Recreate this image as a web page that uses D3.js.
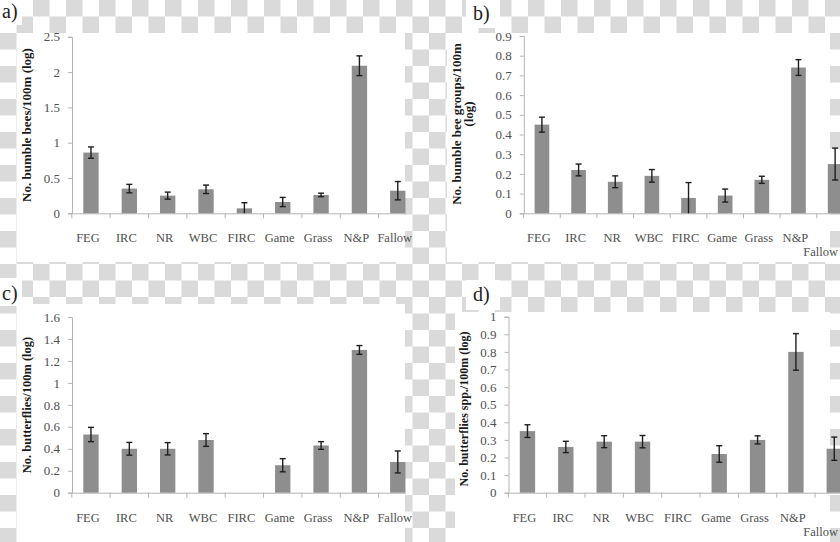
<!DOCTYPE html>
<html>
<head>
<meta charset="utf-8">
<script src="https://cdn.jsdelivr.net/npm/d3@7"></script>
<style>
  html, body { margin: 0; padding: 0; background: #fff; }
  svg { display: block; }
  text { font-family: 'Liberation Serif', 'Times New Roman', serif; }
</style>
</head>
<body>
<svg id="chart" width="840" height="542"></svg>
<script>
// ---------- data ----------
const categories = ["FEG", "IRC", "NR", "WBC", "FIRC", "Game", "Grass", "N&P", "Fallow"];

const beesMean = [0.86, 0.35, 0.25, 0.34, 0.07, 0.16, 0.26, 2.09, 0.32];
const beesErr  = [0.08, 0.06, 0.05, 0.06, 0.08, 0.065, 0.025, 0.14, 0.13];

const groupsMean = [0.45, 0.22, 0.16, 0.19, 0.078, 0.09, 0.17, 0.74, 0.25];
const groupsErr  = [0.038, 0.03, 0.03, 0.032, 0.078, 0.033, 0.018, 0.04, 0.081];

const butterfliesMean = [0.53, 0.40, 0.40, 0.48, 0, 0.25, 0.43, 1.30, 0.28];
const butterfliesErr  = [0.065, 0.058, 0.056, 0.058, 0, 0.06, 0.035, 0.04, 0.10];

const sppMean = [0.35, 0.26, 0.29, 0.29, 0, 0.22, 0.30, 0.80, 0.25];
const sppErr  = [0.036, 0.032, 0.034, 0.035, 0, 0.047, 0.023, 0.104, 0.066];

const ticksA = [0, 0.5, 1, 1.5, 2, 2.5];
const ticksB = [0, 0.1, 0.2, 0.3, 0.4, 0.5, 0.6, 0.7, 0.8, 0.9];
const ticksC = [0, 0.2, 0.4, 0.6, 0.8, 1, 1.2, 1.4, 1.6];
const ticksD = [0, 0.1, 0.2, 0.3, 0.4, 0.5, 0.6, 0.7, 0.8, 0.9, 1];

const panelLetters = ["a)", "b)", "c)", "d)"];
const yTitles = [
  ["No. bumble bees/100m (log)"],
  ["No. bumble bee groups/100m", "(log)"],
  ["No. butterflies/100m (log)"],
  ["No. butterflies spp./100m (log)"]
];

// ---------- layout ----------
const FONT = "'Liberation Serif', 'Times New Roman', serif";
const svg = d3.select("#chart");
const W = 840, H = 542;

const defs = svg.append("defs");
const pat = defs.append("pattern").attr("id", "checker")
  .attr("patternUnits", "userSpaceOnUse").attr("width", 33).attr("height", 33);
pat.append("rect").attr("width", 33).attr("height", 33).attr("fill", "#ffffff");
pat.append("rect").attr("x", 0).attr("y", 0).attr("width", 16.5).attr("height", 16.5).attr("fill", "#dadada");
pat.append("rect").attr("x", 16.5).attr("y", 16.5).attr("width", 16.5).attr("height", 16.5).attr("fill", "#dadada");
svg.append("rect").attr("width", W).attr("height", H).attr("fill", "url(#checker)");

const panels = [
  { mean: beesMean, err: beesErr, ticks: ticksA, max: 2.5,
    box: [17, 33, 405, 262], label: [2, 18], labelBox: [0, 0, 22, 25],
    x0: 71.8, step: 38.35, y0: 213.3, y1: 36.8,
    title: { x: 31, y: 125, size: 13, lines: [[0, 0]] } },
  { mean: groupsMean, err: groupsErr, ticks: ticksB, max: 0.9,
    box: [447, 33, 830, 262], label: [473, 20], labelBox: [466, 0, 500, 28],
    x0: 523.6, step: 36.65, y0: 213.3, y1: 36,
    title: { x: 461, y: 124, size: 13, lines: [[0, 0], [11.5, -10]] } },
  { mean: butterfliesMean, err: butterfliesErr, ticks: ticksC, max: 1.6,
    box: [17, 304, 405, 542], label: [2, 300], labelBox: [0, 278, 22, 306],
    x0: 71.8, step: 38.35, y0: 492.7, y1: 317,
    title: { x: 31, y: 405, size: 12.5, lines: [[0, 0]] } },
  { mean: sppMean, err: sppErr, ticks: ticksD, max: 1.0,
    box: [455, 312, 830, 542], label: [473, 301], labelBox: [466, 280, 500, 310],
    x0: 508.3, step: 38.35, y0: 492.7, y1: 316.7,
    title: { x: 468, y: 409, size: 12, lines: [[0, 0]] } }
];

const barColor = "#8e8e8e";
const axisColor = "#b4b4b4";
const tickTextColor = "#505050";

panels.forEach((p, i) => {
  const [bx0, by0, bx1, by1] = p.box;
  svg.append("rect").attr("x", bx0).attr("y", by0)
    .attr("width", bx1 - bx0).attr("height", by1 - by0).attr("fill", "#fff");
  const [lx0, ly0, lx1, ly1] = p.labelBox;
  svg.append("rect").attr("x", lx0).attr("y", ly0)
    .attr("width", lx1 - lx0).attr("height", ly1 - ly0).attr("fill", "#fff");

  svg.append("text").attr("x", p.label[0]).attr("y", p.label[1])
    .attr("font-family", FONT)
    .attr("font-size", 20).attr("fill", "#222").text(panelLetters[i]);

  const clipId = "clip" + i;
  defs.append("clipPath").attr("id", clipId).append("rect")
    .attr("x", 0).attr("y", 0).attr("width", (i % 2 === 0 ? bx1 + 1 : W)).attr("height", H);

  const g = svg.append("g").attr("clip-path", `url(#${clipId})`);

  const x = d3.scaleBand().domain(categories)
    .range([p.x0, p.x0 + p.step * categories.length]).padding(0);
  const y = d3.scaleLinear().domain([0, p.max]).range([p.y0, p.y1]);
  const axisX = x.range()[0] + 0.2;

  // Y axis
  const yAxis = d3.axisLeft(y).tickValues(p.ticks).tickSize(4).tickPadding(8)
    .tickFormat(d => String(+d.toFixed(2)));
  const yg = g.append("g").attr("transform", `translate(${axisX},0)`).call(yAxis);
  yg.attr("font-family", FONT).attr("font-size", 13);
  yg.select(".domain").attr("stroke", axisColor);
  yg.selectAll(".tick line").attr("stroke", axisColor);
  yg.selectAll(".tick text").attr("fill", tickTextColor);

  // X axis line
  const xAxis = d3.axisBottom(x).tickSize(0).tickFormat("");
  const xg = g.append("g").attr("transform", `translate(0,${p.y0})`).call(xAxis);
  xg.select(".domain").attr("stroke", axisColor);

  // boundary tick marks between categories
  g.append("g").selectAll("line")
    .data(d3.range(categories.length + 1))
    .join("line")
    .attr("x1", k => x.range()[0] + k * x.step())
    .attr("x2", k => x.range()[0] + k * x.step())
    .attr("y1", p.y0).attr("y2", p.y0 + 5)
    .attr("stroke", axisColor);

  // category labels under each bar
  const lab = svg.append("g").selectAll("text").data(categories).join("text")
    .attr("text-anchor", "middle").attr("font-family", FONT).attr("font-size", 12.5)
    .attr("fill", tickTextColor).text(d => d);
  lab.each(function (d) {
    const L = this.getComputedTextLength ? this.getComputedTextLength() : d.length * 7;
    const want = x(d) + x.step() / 2 - 3;
    const limit = W - 2 - L / 2;
    const clamped = want > limit;
    d3.select(this)
      .attr("x", clamped ? limit : want)
      .attr("y", p.y0 + 29 + (clamped ? 14 : 0));
  });

  const data = categories.map((c, k) => ({ c, m: p.mean[k], e: p.err[k] }))
    .filter(d => d.m > 0);
  const bw = x.step() * 0.4;

  g.append("g").selectAll("rect").data(data).join("rect")
    .attr("x", d => x(d.c) + (x.step() - bw) / 2)
    .attr("y", d => y(d.m))
    .attr("width", bw)
    .attr("height", d => y(0) - y(d.m))
    .attr("fill", barColor);

  const eg = g.append("g").attr("stroke", "#1e1e1e").attr("stroke-width", 1.4);
  const cx = d => x(d.c) + x.step() / 2;
  eg.selectAll("line.v").data(data).join("line")
    .attr("x1", cx).attr("x2", cx)
    .attr("y1", d => y(d.m + d.e)).attr("y2", d => y(Math.max(0, d.m - d.e)));
  eg.selectAll("line.t").data(data).join("line")
    .attr("x1", d => cx(d) - 3).attr("x2", d => cx(d) + 3)
    .attr("y1", d => y(d.m + d.e)).attr("y2", d => y(d.m + d.e));
  eg.selectAll("line.b").data(data.filter(d => d.m - d.e > 0.005)).join("line")
    .attr("x1", d => cx(d) - 3).attr("x2", d => cx(d) + 3)
    .attr("y1", d => y(d.m - d.e)).attr("y2", d => y(d.m - d.e));

  // Y title
  yTitles[i].forEach((t, k) => {
    const [dxOff, dyOff] = p.title.lines[k];
    svg.append("text")
      .attr("transform", `translate(${p.title.x + dxOff},${p.title.y + dyOff}) rotate(-90)`)
      .attr("text-anchor", "middle")
      .attr("font-family", FONT)
      .attr("font-size", p.title.size).attr("font-weight", "bold")
      .attr("fill", "#1a1a1a")
      .text(t);
  });
});
</script>
</body>
</html>
